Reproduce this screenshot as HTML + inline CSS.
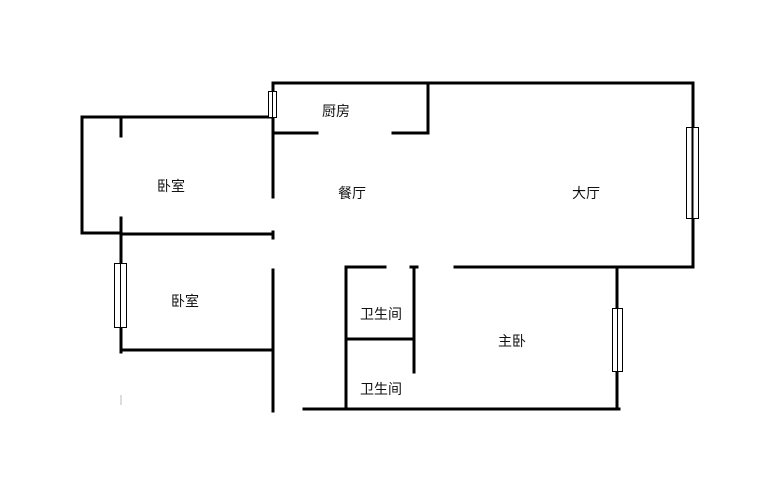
<!DOCTYPE html>
<html><head><meta charset="utf-8"><style>
html,body{margin:0;padding:0;background:#fff;}
svg{display:block;}
text{font-family:"Liberation Sans","Noto Sans CJK SC",sans-serif;font-size:14px;fill:#111;}
</style></head><body>
<svg width="771" height="498" viewBox="0 0 771 498" xmlns="http://www.w3.org/2000/svg">
<g stroke="#000" stroke-width="3" fill="none" stroke-linecap="square">
<!-- top wall -->
<line x1="273" y1="83" x2="693" y2="83"/>
<!-- kitchen -->
<line x1="428" y1="83" x2="428" y2="133"/>
<line x1="273" y1="133" x2="317" y2="133"/>
<line x1="393" y1="133" x2="428" y2="133"/>
<!-- left vertical wall -->
<line x1="273" y1="83" x2="273" y2="197"/>
<line x1="273" y1="232" x2="273" y2="238"/>
<line x1="273" y1="270" x2="273" y2="411"/>
<!-- bedroom 1 -->
<line x1="82" y1="117" x2="273" y2="117"/>
<line x1="82" y1="117" x2="82" y2="233"/>
<line x1="82" y1="233" x2="121" y2="233"/>
<line x1="121" y1="234" x2="273" y2="234"/>
<line x1="121" y1="117" x2="121" y2="136"/>
<line x1="121" y1="218" x2="121" y2="263"/>
<line x1="121" y1="328" x2="121" y2="352"/>
<!-- bedroom 2 bottom -->
<line x1="121" y1="350" x2="273" y2="350"/>
<!-- bathrooms -->
<line x1="346" y1="267" x2="346" y2="408"/>
<line x1="346" y1="267" x2="385" y2="267"/>
<line x1="411" y1="267" x2="417" y2="267"/>
<line x1="414" y1="267" x2="414" y2="372"/>
<line x1="346" y1="339" x2="414" y2="339"/>
<!-- bottom wall -->
<line x1="304" y1="409" x2="619" y2="409"/>
<!-- living bottom / right -->
<line x1="455" y1="267" x2="693" y2="267"/>
<line x1="693" y1="83" x2="693" y2="267"/>
<!-- master right -->
<line x1="617" y1="267" x2="617" y2="409"/>
</g>
<line x1="121" y1="395" x2="121" y2="405" stroke="#bbb" stroke-width="1"/>
<!-- windows -->
<g fill="#fff" stroke="#000" stroke-width="1">
<rect x="268.5" y="91.5" width="8" height="26"/>
<line x1="272.5" y1="91.5" x2="272.5" y2="117.5"/>
<rect x="114.5" y="263.5" width="12" height="64"/>
<line x1="120.5" y1="263.5" x2="120.5" y2="327.5"/>
<rect x="686.5" y="127.5" width="12" height="91"/>
<line x1="692.5" y1="127.5" x2="692.5" y2="218.5" stroke-width="2"/>
<rect x="612.5" y="308.5" width="10" height="63"/>
<line x1="617.5" y1="308.5" x2="617.5" y2="371.5"/>
</g>
<text x="336" y="116" text-anchor="middle">厨房</text>
<text x="171" y="191" text-anchor="middle">卧室</text>
<text x="352" y="198" text-anchor="middle">餐厅</text>
<text x="586" y="198" text-anchor="middle">大厅</text>
<text x="185" y="306" text-anchor="middle">卧室</text>
<text x="381" y="319" text-anchor="middle">卫生间</text>
<text x="381" y="394" text-anchor="middle">卫生间</text>
<text x="512" y="346" text-anchor="middle">主卧</text>
</svg>
</body></html>
